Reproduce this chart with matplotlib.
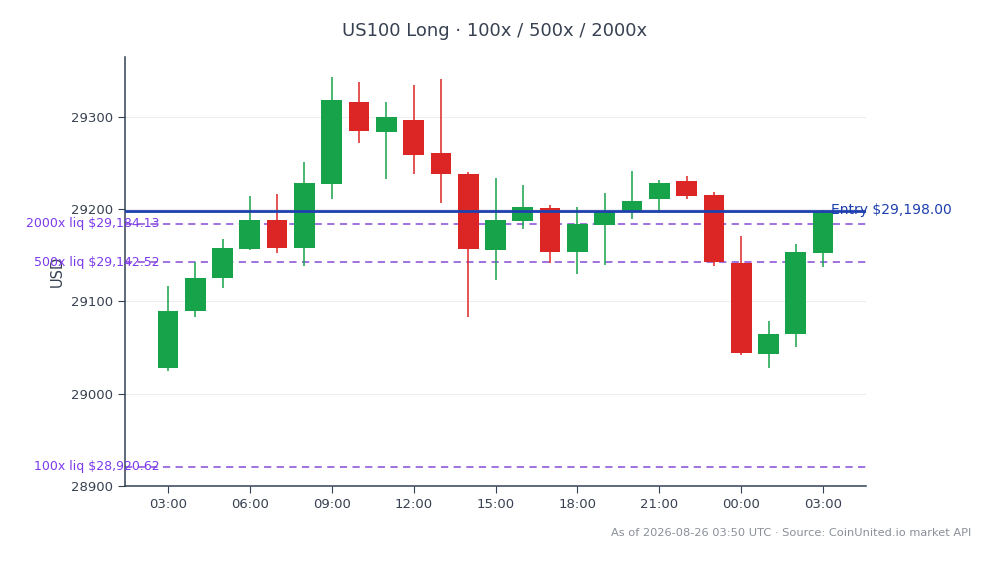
import numpy as np
import matplotlib
matplotlib.use('Agg')
import matplotlib.pyplot as plt
import matplotlib.transforms as mtransforms

# hourly candles, 03:00 -> 03:00 next day
hours = ['03:00', '04:00', '05:00', '06:00', '07:00', '08:00', '09:00', '10:00', '11:00',
         '12:00', '13:00', '14:00', '15:00', '16:00', '17:00', '18:00', '19:00', '20:00',
         '21:00', '22:00', '23:00', '00:00', '01:00', '02:00', '03:00']
opens  = [29028.3, 29089.5, 29125.3, 29156.8, 29188.8, 29158.0, 29227.5, 29316.0, 29283.4,
          29296.4, 29260.5, 29238.0, 29155.8, 29187.3, 29201.1, 29153.6, 29183.4, 29197.5,
          29211.2, 29230.4, 29215.2, 29141.3, 29042.7, 29064.5, 29152.5]
highs  = [29116.3, 29142.4, 29167.4, 29214.1, 29216.6, 29251.4, 29343.8, 29338.0, 29316.3,
          29334.8, 29341.3, 29239.9, 29233.7, 29226.1, 29204.3, 29202.5, 29217.4, 29241.6,
          29231.5, 29235.9, 29218.5, 29170.7, 29079.3, 29162.0, 29199.0]
lows   = [29025.0, 29083.7, 29114.1, 29155.4, 29152.5, 29138.4, 29211.2, 29272.1, 29232.9,
          29238.0, 29206.8, 29082.9, 29122.8, 29178.3, 29141.6, 29129.7, 29139.9, 29189.5,
          29196.0, 29210.9, 29138.4, 29041.6, 29027.5, 29050.3, 29137.3]
closes = [29090.2, 29126.0, 29158.4, 29188.8, 29158.0, 29227.9, 29318.5, 29285.1, 29299.7,
          29259.0, 29238.4, 29156.8, 29188.8, 29202.2, 29153.6, 29183.7, 29197.1, 29208.7,
          29228.3, 29214.5, 29143.1, 29044.2, 29065.2, 29153.3, 29197.5]

entry_price = 29198.00
liq_labels = ['2000x liq', '500x liq', '100x liq']
liq_prices = [29184.13, 29142.52, 28920.62]

GREEN = '#16a34a'
RED = '#dc2626'
AXCOL = '#334155'
TXT = '#374151'

fig = plt.figure(figsize=(9.94, 5.64), dpi=100)
ax = fig.add_axes([0.1258, 0.1383, 0.7454, 0.7606])

x = np.arange(len(hours))
width = 0.76
for i in x:
    o, h, l, c = opens[i], highs[i], lows[i], closes[i]
    col = GREEN if c >= o else RED
    ax.vlines(i, l, h, color=col, linewidth=1.1, zorder=3)
    ax.bar(i, abs(c - o), width, bottom=min(o, c), color=col, zorder=4, linewidth=0)

# entry line
ax.axhline(entry_price, color='#1e40af', linewidth=2, zorder=5)
trans = mtransforms.blended_transform_factory(ax.transAxes, ax.transData)
ax.text(0.953, entry_price + 1, 'Entry $29,198.00', transform=trans, color='#1e40af',
        fontsize=10, ha='left', va='center', zorder=6, clip_on=False)

# liquidation lines
for lab, p in zip(liq_labels, liq_prices):
    ax.axhline(p, color='#9966dd', linewidth=1.3, linestyle=(0, (4, 3)), zorder=2)
    ax.text(0.047, p, '%s $%s' % (lab, format(p, ',.2f')), transform=trans, color='#7c3aed',
            fontsize=9, ha='right', va='center', zorder=6, clip_on=False)

ax.set_xlim(-1.57, 25.57)
ax.set_ylim(28900, 29365)
ax.set_xticks(x[::3])
ax.set_xticklabels(hours[::3])
ax.set_yticks([28900, 29000, 29100, 29200, 29300])
ax.grid(axis='y', color='#eeeeee', linewidth=0.8, zorder=0)
ax.set_axisbelow(True)

for s in ['top', 'right']:
    ax.spines[s].set_visible(False)
for s in ['left', 'bottom']:
    ax.spines[s].set_color(AXCOL)
    ax.spines[s].set_linewidth(1.1)
ax.tick_params(colors=AXCOL, labelsize=9.5, length=5, labelcolor=TXT)

ax.set_ylabel('USD', fontsize=10.5, color=TXT, labelpad=2)
ax.yaxis.set_label_coords(-0.081, 0.5)

fig.text(0.498, 0.945, 'US100 Long \u00b7 100x / 500x / 2000x', ha='center', va='center',
         fontsize=13, color=TXT)
fig.text(0.977, 0.055, 'As of 2026-08-26 03:50 UTC \u00b7 Source: CoinUnited.io market API',
         ha='right', va='center', fontsize=8.2, color='#8a8f98')

fig.savefig('out.png', dpi=100)
